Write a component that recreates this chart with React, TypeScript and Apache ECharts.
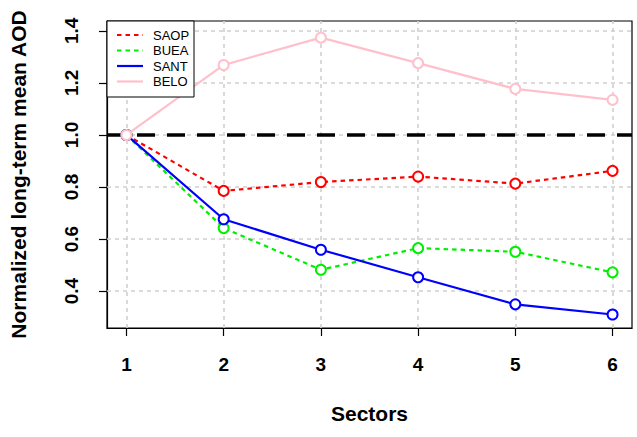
import React, { useEffect, useRef } from "react";
import * as echarts from "echarts";

const sectors = [1, 2, 3, 4, 5, 6];
const saop = [1.0, 0.785, 0.819, 0.84, 0.813, 0.862];
const buea = [1.0, 0.642, 0.482, 0.565, 0.551, 0.472];
const sant = [1.0, 0.676, 0.559, 0.453, 0.349, 0.31];
const belo = [1.0, 1.269, 1.374, 1.276, 1.177, 1.135];
const xTicks = [1, 2, 3, 4, 5, 6];
const yTicks = [0.4, 0.6, 0.8, 1.0, 1.2, 1.4];
const refLevel = 1.0;
const seriesNames = ["SAOP", "BUEA", "SANT", "BELO"];

const FONT = "'Liberation Sans', Arial, sans-serif";

export default function App() {
  const ref = useRef<HTMLDivElement>(null);
  useEffect(() => {
    if (!ref.current) return;
    const chart = echarts.init(ref.current, undefined, { renderer: "svg" });
    const colors = ["#ff0000", "#00ee00", "#0000ff", "#ffc0cb"];
    const dashes: any[] = [[4.5, 4], [4.5, 4], "solid", "solid"];
    const values = [saop, buea, sant, belo];
    const mkSeries = (i: number) => ({
      type: "line",
      name: seriesNames[i],
      data: sectors.map((s, k) => [s, values[i][k]]),
      symbol: "emptyCircle",
      symbolSize: 10,
      z: 5 + i,
      itemStyle: { color: colors[i], borderColor: colors[i], borderWidth: 2 },
      lineStyle: { color: colors[i], width: 2.2, type: dashes[i] },
    });
    // legend graphics
    const lx = 107, ly = 21, rowH = 15.5, firstY = 35;
    const legendEls: any[] = [
      {
        type: "rect",
        shape: { x: lx, y: ly, width: 87, height: 76 },
        style: { fill: "#fff", stroke: "#000", lineWidth: 1 },
        z: 100,
      },
    ];
    seriesNames.forEach((n, i) => {
      const y = firstY + i * rowH;
      legendEls.push({
        type: "line",
        shape: { x1: 117, y1: y, x2: 143, y2: y },
        style: {
          stroke: colors[i],
          lineWidth: 2.2,
          lineDash: dashes[i] === "solid" ? null : dashes[i],
        },
        z: 101,
      });
      legendEls.push({
        type: "text",
        x: 153,
        y: y,
        style: {
          text: n,
          fill: "#000",
          font: `13px ${FONT}`,
          textVerticalAlign: "middle",
          textAlign: "left",
        },
        z: 101,
      });
    });
    chart.setOption({
      animation: false,
      backgroundColor: "#fff",
      textStyle: { fontFamily: FONT },
      grid: {
        left: 107,
        right: 5,
        top: 21,
        bottom: 109,
        show: true,
        borderColor: "#000",
        borderWidth: 1.2,
        backgroundColor: "transparent",
      },
      xAxis: {
        type: "value",
        min: 0.8,
        max: 6.2,
        name: "Sectors",
        nameLocation: "middle",
        nameGap: 75,
        nameTextStyle: { fontSize: 21, fontWeight: "bold", color: "#000", fontFamily: FONT },
        axisLine: { show: true, lineStyle: { color: "#000", width: 1.2 } },
        axisTick: { show: true, length: 8, customValues: xTicks, lineStyle: { color: "#000", width: 1.2 } },
        axisLabel: {
          customValues: xTicks,
          margin: 27,
          fontSize: 19,
          fontWeight: "bold",
          color: "#000",
          fontFamily: FONT,
        },
        splitLine: { show: false },
      },
      yAxis: {
        type: "value",
        min: 0.258,
        max: 1.438,
        name: "Normalized long-term mean AOD",
        nameLocation: "middle",
        nameRotate: 90,
        nameGap: 78,
        nameTextStyle: { fontSize: 21, fontWeight: "bold", color: "#000", fontFamily: FONT },
        axisLine: { show: true, lineStyle: { color: "#000", width: 1.2 } },
        axisTick: { show: true, length: 8, customValues: yTicks, lineStyle: { color: "#000", width: 1.2 } },
        axisLabel: {
          customValues: yTicks,
          rotate: 90,
          margin: 26,
          fontSize: 19,
          fontWeight: "bold",
          color: "#000",
          fontFamily: FONT,
          formatter: (v: number) => v.toFixed(1),
        },
        splitLine: { show: false },
      },
      graphic: legendEls,
      series: [
        {
          type: "line",
          name: "grid",
          data: [],
          z: 1,
          markLine: {
            silent: true,
            symbol: "none",
            label: { show: false },
            lineStyle: { color: "#d0d0d0", type: [4, 4], width: 1.6 },
            data: [
              ...xTicks.map((v) => ({ xAxis: v })),
              ...yTicks.map((v) => ({ yAxis: v })),
            ],
          },
        },
        {
          type: "line",
          name: "ref",
          data: [],
          z: 3,
          markLine: {
            silent: true,
            symbol: "none",
            label: { show: false },
            lineStyle: { color: "#000", type: [18, 12], width: 3.5 },
            data: [{ yAxis: refLevel }],
          },
        },
        ...[0, 1, 2, 3].map(mkSeries),
      ],
    });
    return () => chart.dispose();
  }, []);
  return (
    <div
      ref={ref}
      style={{ position: "absolute", left: 0, top: 0, width: 637, height: 437 }}
    />
  );
}
